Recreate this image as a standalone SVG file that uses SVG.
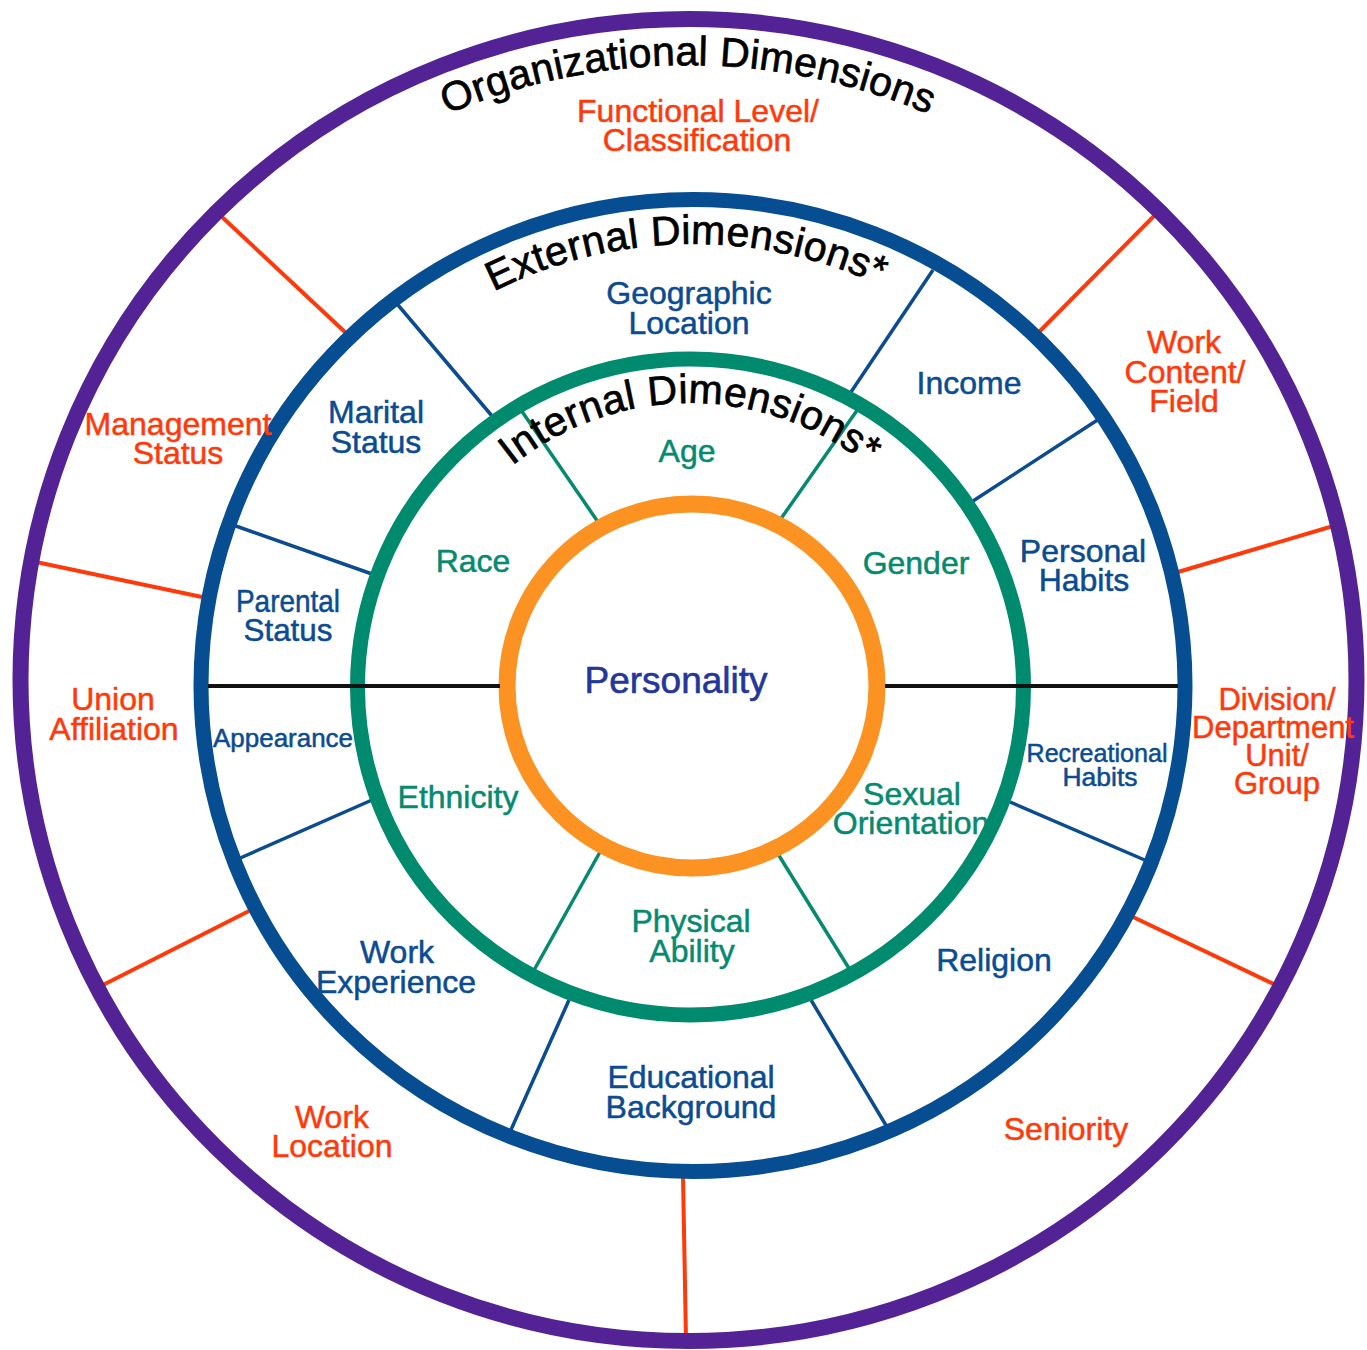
<svg xmlns="http://www.w3.org/2000/svg" width="1367" height="1350" viewBox="0 0 1367 1350">
<style>
text{font-family:"Liberation Sans",Arial,sans-serif;text-anchor:middle}
.lbl{font-size:32px}
.red{fill:#ff3a0a;stroke:#ff3a0a;stroke-width:0.5}
.blu{fill:#0a4b91;stroke:#0a4b91;stroke-width:0.5}
.grn{fill:#058a6f;stroke:#058a6f;stroke-width:0.5}
.arc{font-size:41px;fill:#000;stroke:#000;stroke-width:0.7}
.rl{stroke:#ff3a0a;stroke-width:4;fill:none}
.bl{stroke:#0a4b91;stroke-width:3.5;fill:none}
.gl{stroke:#058a6f;stroke-width:3.5;fill:none}
.ring{fill:none}
</style>
<defs>
<path id="pOrg" d="M 73,680 A 615,615 0 0 1 1303,680"/>
<path id="pExt" d="M 251,686 A 442,442 0 0 1 1135,686"/>
<path id="pInt" d="M 406,687 A 284,284 0 0 1 974,687"/>
</defs>
<rect width="1367" height="1350" fill="#fff"/>
<g id="connectors">
<line class="rl" x1="222" y1="217" x2="346" y2="333"/>
<line class="rl" x1="1157" y1="213" x2="1038" y2="333"/>
<line class="rl" x1="36" y1="562" x2="202" y2="597"/>
<line class="rl" x1="1340" y1="524" x2="1178" y2="572"/>
<line class="rl" x1="101" y1="986" x2="249" y2="911"/>
<line class="rl" x1="1282" y1="988" x2="1133" y2="917"/>
<line class="rl" x1="683" y1="1176" x2="686" y2="1340"/>
<line class="bl" x1="398" y1="305" x2="492" y2="416"/>
<line class="bl" x1="933" y1="270" x2="851" y2="392"/>
<line class="bl" x1="233" y1="525" x2="372" y2="574"/>
<line class="bl" x1="1099" y1="419" x2="973" y2="501"/>
<line class="bl" x1="238" y1="859" x2="372" y2="800"/>
<line class="bl" x1="1010" y1="802" x2="1147" y2="861"/>
<line class="bl" x1="569" y1="1000" x2="510" y2="1132"/>
<line class="bl" x1="811" y1="1000" x2="887" y2="1127"/>
<line class="gl" x1="521" y1="410" x2="598" y2="522"/>
<line class="gl" x1="858" y1="409" x2="780" y2="520"/>
<line class="gl" x1="600" y1="852" x2="533" y2="972"/>
<line class="gl" x1="778" y1="854" x2="850" y2="970"/>
</g>
<g id="rings">
<ellipse id="ring-org" class="ring" cx="688.5" cy="680" rx="668" ry="661" stroke="#532295" stroke-width="16"/>
<ellipse id="ring-ext" class="ring" cx="693" cy="685.5" rx="492" ry="486" stroke="#064d92" stroke-width="15"/>
<ellipse id="ring-int" class="ring" cx="690.5" cy="687" rx="333" ry="328" stroke="#008a6e" stroke-width="15"/>
<ellipse id="ring-pers" class="ring" cx="692" cy="686" rx="185" ry="182" stroke="#fb9221" stroke-width="17"/>
</g>
<g id="axis">
<line x1="208" y1="686" x2="500" y2="686" stroke="#111" stroke-width="4"/>
<line x1="885" y1="686" x2="1178" y2="686" stroke="#111" stroke-width="4"/>
</g>
<g id="titles">
<text class="arc" letter-spacing="0.2"><textPath href="#pOrg" startOffset="50%">Organizational Dimensions</textPath></text>
<text class="arc" letter-spacing="0.4"><textPath href="#pExt" startOffset="49.5%">External Dimensions*</textPath></text>
<text class="arc" letter-spacing="0.3"><textPath href="#pInt" startOffset="50%">Internal Dimensions*</textPath></text>
</g>
<g id="n-functional"><text x="698" y="122" class="lbl red">Functional Level/</text><text x="697" y="151" class="lbl red">Classification</text></g>
<g id="n-workcontent"><text x="1184" y="353" class="lbl red">Work</text><text x="1185" y="383" class="lbl red">Content/</text><text x="1184" y="412" class="lbl red">Field</text></g>
<g id="n-management"><text x="178" y="435" class="lbl red">Management</text><text x="178" y="464" class="lbl red">Status</text></g>
<g id="n-union"><text x="113" y="710" class="lbl red">Union</text><text x="114" y="740" class="lbl red">Affiliation</text></g>
<g id="n-division"><text x="1277" y="710" class="red" style="font-size:31px">Division/</text><text x="1273" y="738" class="red" style="font-size:31px">Department</text><text x="1277" y="766" class="red" style="font-size:31px">Unit/</text><text x="1277" y="794" class="red" style="font-size:31px">Group</text></g>
<g id="n-worklocation"><text x="332" y="1128" class="lbl red">Work</text><text x="332" y="1157" class="lbl red">Location</text></g>
<g id="n-seniority"><text x="1066" y="1140" class="lbl red">Seniority</text></g>
<g id="n-geographic"><text x="689" y="304" class="lbl blu">Geographic</text><text x="689" y="334" class="lbl blu">Location</text></g>
<g id="n-income"><text x="969" y="394" class="lbl blu">Income</text></g>
<g id="n-marital"><text x="376" y="423" class="lbl blu">Marital</text><text x="376" y="453" class="lbl blu">Status</text></g>
<g id="n-parental"><text x="288" y="612" class="lbl blu" textLength="104" lengthAdjust="spacingAndGlyphs">Parental</text><text x="288" y="641" class="lbl blu" textLength="89" lengthAdjust="spacingAndGlyphs">Status</text></g>
<g id="n-personal"><text x="1083" y="562" class="lbl blu">Personal</text><text x="1084" y="591" class="lbl blu">Habits</text></g>
<g id="n-appearance"><text x="283" y="747" class="blu" style="font-size:25px" textLength="140" lengthAdjust="spacingAndGlyphs">Appearance</text></g>
<g id="n-recreational"><text x="1097" y="762" class="blu" style="font-size:25px" textLength="141" lengthAdjust="spacingAndGlyphs">Recreational</text><text x="1100" y="786" class="blu" style="font-size:25px" textLength="75" lengthAdjust="spacingAndGlyphs">Habits</text></g>
<g id="n-workexp"><text x="397" y="963" class="lbl blu">Work</text><text x="396" y="993" class="lbl blu">Experience</text></g>
<g id="n-religion"><text x="994" y="971" class="lbl blu">Religion</text></g>
<g id="n-educational"><text x="691" y="1088" class="lbl blu">Educational</text><text x="691" y="1118" class="lbl blu">Background</text></g>
<g id="n-age"><text x="687" y="462" class="lbl grn">Age</text></g>
<g id="n-race"><text x="473" y="572" class="lbl grn">Race</text></g>
<g id="n-gender"><text x="916" y="574" class="lbl grn">Gender</text></g>
<g id="n-ethnicity"><text x="458" y="808" class="lbl grn">Ethnicity</text></g>
<g id="n-sexual"><text x="912" y="805" class="lbl grn">Sexual</text><text x="911" y="834" class="lbl grn">Orientation</text></g>
<g id="n-physical"><text x="691" y="932" class="lbl grn">Physical</text><text x="692" y="962" class="lbl grn">Ability</text></g>
<g id="n-personality"><text x="676" y="693" style="font-size:37px;fill:#23379a;stroke:#23379a;stroke-width:0.6">Personality</text></g>
</svg>
